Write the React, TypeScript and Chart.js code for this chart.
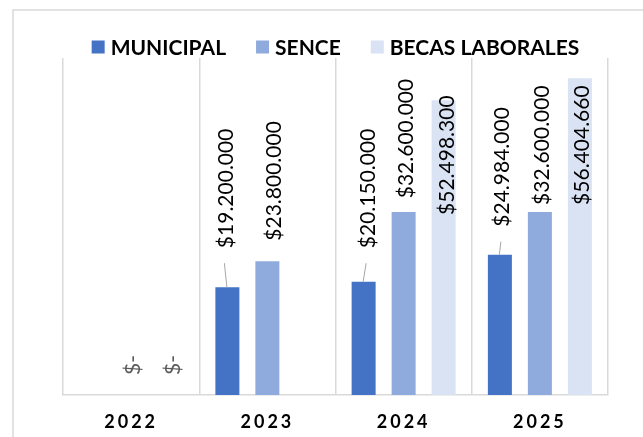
import React, { useEffect, useRef } from "react";
import { Chart, registerables } from "chart.js";

Chart.register(...registerables);

// ---- data ----
const categories = ["2022", "2023", "2024", "2025"];
const seriesNames = ["MUNICIPAL", "SENCE", "BECAS LABORALES"];
const municipal = [null, 19200000, 20150000, 24984000];
const sence = [0, 23800000, 32600000, 32600000];
const becas = [0, null, 52498300, 56404660];
const yMax = 60000000;

// ---- styles ----
const colors = ["#4472C4", "#8FAADC", "#DAE3F3"];
const FONT = "Lato, 'Open Sans', sans-serif";

// label placement (offset from bar centre / bar top), per series per category
const municipalLabel = [null, { dx: -2, gap: 39, leader: true }, { dx: 3.5, gap: 33.6, leader: true }, { dx: 2, gap: 28, leader: true }];
const senceLabel = [{ dx: 1, gap: 20 }, { dx: 6, gap: 20.6 }, { dx: 1.5, gap: 13.6 }, { dx: 1.5, gap: 7 }];
const becasLabel = [{ dx: 1, gap: 20 }, null, { dx: 2.5, gap: -114.8 }, { dx: 1.5, gap: -126.7 }];
const placements = [municipalLabel, senceLabel, becasLabel];

const fmt = (v: number) =>
  v === 0 ? "$-" : "$" + String(v).replace(/\B(?=(\d{3})+(?!\d))/g, ".");

const overlay = {
  id: "overlay",
  afterDraw(chart: any) {
    const ctx: CanvasRenderingContext2D = chart.ctx;
    const area = chart.chartArea;
    ctx.save();
    // outer frame
    ctx.strokeStyle = "#d9d9d9";
    ctx.lineWidth = 1.5;
    ctx.beginPath();
    ctx.moveTo(13, 437);
    ctx.lineTo(13, 10);
    ctx.lineTo(643, 10);
    ctx.stroke();

    // legend
    ctx.font = `bold 21px ${FONT}`;
    ctx.textBaseline = "middle";
    ctx.textAlign = "left";
    const box = 13, boxGap = 6, itemGap = 30;
    const widths = seriesNames.map((n) => ctx.measureText(n).width);
    const total = widths.reduce((a, w) => a + box + boxGap + w, 0) + itemGap * (seriesNames.length - 1);
    let x = (area.left + area.right) / 2 - total / 2;
    const ly = 47;
    seriesNames.forEach((n, i) => {
      ctx.fillStyle = colors[i];
      ctx.fillRect(x, ly - box / 2, box, box);
      ctx.fillStyle = "#000";
      ctx.fillText(n, x + box + boxGap, ly + 1);
      x += box + boxGap + widths[i] + itemGap;
    });

    // category labels
    const xs = chart.scales.x;
    ctx.font = `bold 18px ${FONT}`;
    (ctx as any).letterSpacing = "3px";
    ctx.textAlign = "center";
    ctx.textBaseline = "alphabetic";
    ctx.fillStyle = "#000";
    categories.forEach((c, i) => ctx.fillText(c, xs.getPixelForValue(i), 428));
    (ctx as any).letterSpacing = "0px";

    // data labels
    const fs = 21;
    const capH = 0.72 * fs;
    ctx.font = `${fs}px ${FONT}`;
    chart.data.datasets.forEach((ds: any, di: number) => {
      const meta = chart.getDatasetMeta(di);
      meta.data.forEach((bar: any, i: number) => {
        const v = ds.data[i];
        if (v === null || v === undefined) return;
        const p = placements[di][i];
        if (!p) return;
        const barTop = bar.y;
        const cx = bar.x;
        const labelX = cx + p.dx;
        const textStart = barTop - p.gap;
        if (p.leader) {
          ctx.strokeStyle = "#a6a6a6";
          ctx.lineWidth = 1;
          ctx.beginPath();
          ctx.moveTo(cx - 0.5, barTop);
          ctx.lineTo(labelX - 1, textStart + 15);
          ctx.stroke();
        }
        ctx.save();
        ctx.translate(labelX + capH / 2, textStart);
        ctx.rotate(-Math.PI / 2);
        ctx.textAlign = "left";
        ctx.textBaseline = "alphabetic";
        ctx.fillStyle = v === 0 ? "#595959" : "#000";
        ctx.fillText(fmt(v), 0, 0);
        ctx.restore();
      });
    });
    ctx.restore();
  },
};

export default function App() {
  const ref = useRef<HTMLCanvasElement | null>(null);
  useEffect(() => {
    if (!ref.current) return;
    const chart = new Chart(ref.current, {
      type: "bar",
      data: {
        labels: categories,
        datasets: [
          { label: seriesNames[0], data: municipal, backgroundColor: colors[0], borderWidth: 0 },
          { label: seriesNames[1], data: sence, backgroundColor: colors[1], borderWidth: 0 },
          { label: seriesNames[2], data: becas, backgroundColor: colors[2], borderWidth: 0 },
        ],
      },
      options: {
        responsive: false,
        animation: false,
        events: [],
        layout: { padding: { left: 63, right: 35, top: 58, bottom: 42 } },
        datasets: { bar: { categoryPercentage: 120 / 136.25, barPercentage: 0.6 } },
        plugins: { legend: { display: false }, tooltip: { enabled: false }, title: { display: false } },
        scales: {
          x: {
            grid: { color: "#d9d9d9", lineWidth: 1.5, drawTicks: false, offset: true },
            border: { color: "#d9d9d9", width: 1.5 },
            ticks: { display: false },
            afterFit: (s: any) => { s.height = 0; },
          },
          y: { display: false, min: 0, max: yMax },
        },
      },
      plugins: [overlay],
    } as any);
    return () => chart.destroy();
  }, []);
  return (
    <div style={{ position: "fixed", left: 0, top: 0, width: 643, height: 437, overflow: "hidden", background: "#fff" }}>
      <canvas ref={ref} width={643} height={437} style={{ display: "block" }} />
    </div>
  );
}
